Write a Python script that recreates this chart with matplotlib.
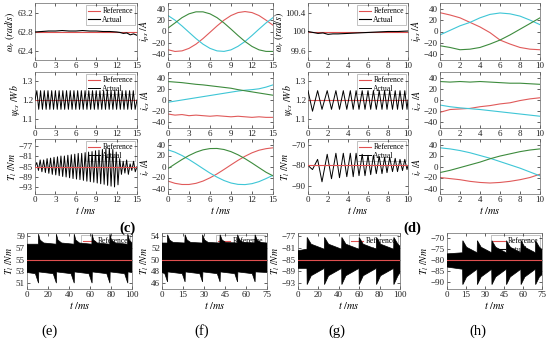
import numpy as np
import matplotlib
matplotlib.use("Agg")
import matplotlib.pyplot as plt

plt.rcParams["font.family"] = ["Liberation Serif", "DejaVu Serif"]
plt.rcParams["mathtext.fontset"] = "stix"

W, H = 550, 342

# ---------------- data ----------------
# (c) block, 0..15 ms
t15 = [0, 1, 2, 3, 4, 5, 6, 7, 8, 9, 10, 11, 12, 13, 14, 15]
wr_c_t = [0, 1, 2, 3, 4, 5, 6, 7, 8, 9, 10, 11, 12, 12.5, 13, 13.5, 14, 14.5, 15]
wr_c = [62.79, 62.80, 62.81, 62.81, 62.82, 62.81, 62.81, 62.82, 62.81, 62.81,
        62.80, 62.80, 62.79, 62.78, 62.76, 62.77, 62.73, 62.75, 62.72]
psi_c = [1.20, 1.25, 1.15, 1.25, 1.15, 1.25, 1.15, 1.25, 1.15, 1.25, 1.15, 1.25, 1.15,
         1.25, 1.15, 1.25, 1.15, 1.25, 1.15, 1.25, 1.15, 1.25, 1.15, 1.25, 1.15, 1.25,
         1.15, 1.25, 1.15, 1.25, 1.15, 1.25, 1.15, 1.25, 1.15, 1.25, 1.15, 1.25, 1.15,
         1.25, 1.15, 1.25, 1.15, 1.25, 1.15, 1.25, 1.15, 1.25, 1.15, 1.25, 1.15, 1.25,
         1.15, 1.25, 1.15, 1.20]
tl_c = [-85, -83.5, -86.5, -82.5, -87, -82.5, -87.3, -82, -87.6, -81.8, -88, -81.5,
        -88.2, -81.3, -88.5, -81, -88.8, -81, -89, -80.7, -89.3, -80.5, -89.6, -80.3,
        -89.8, -80, -90, -80, -90.3, -79.7, -90.6, -79.5, -90.8, -79.3, -91, -79,
        -91.3, -78.8, -91.6, -78.5, -91.8, -78.2, -92.2, -78, -92.5, -78.5, -92.8,
        -79.5, -92, -82, -88, -83, -87.5, -82.5, -88, -84, -86.5, -83, -87, -85]
ips_c_red = [-32, -35, -34, -29.6, -22.2, -12.4, -1.4, 9.7, 19.9, 28, 33.2, 35, 33.2, 28, 19.9, 11]
ips_c_cyan = [28, 19.9, 9.7, -1.4, -12.4, -22.2, -29.6, -34, -34.9, -32.2, -26, -17.5, -7, 4.2, 15, 24.3]
ips_c_green = [6, 15, 24.3, 31, 34.5, 34.5, 31, 24.3, 15, 4.2, -7, -17.5, -26.2, -32.2, -34.9, -35]
ics_c_red = [-25, -27, -26, -28, -27, -28, -29, -28, -29, -30, -29, -30, -31, -30, -31, -31]
ics_c_cyan = [-4, -2, 0, 2, 4, 6, 8, 10, 12, 14, 16, 17.5, 18.5, 20, 23, 27]
ics_c_green = [33, 32, 31, 29.5, 28, 27, 25.5, 24, 22.5, 21, 18.5, 16.5, 14.5, 12.5, 10.5, 8.5]
ir_c_red = [-26.5, -30.6, -32.7, -32.7, -30.6, -26.5, -20.6, -13.5, -5.4, 3, 11.2, 18.6, 24.9, 29.6, 32.4, 34]
ir_c_cyan = [30.3, 26, 20, 12.7, 4.6, -3.8, -12, -19.3, -25.5, -30, -32.5, -32.9, -31.2, -27.5, -22, -16]
ir_c_green = [-3.8, 4.6, 12.7, 20, 26, 30.3, 32.6, 32.8, 30.9, 27, 21.3, 14.3, 6.3, -2.1, -10.4, -17]

# (d) block, 0..10 ms
t10 = [0, 1, 2, 3, 4, 5, 6, 7, 8, 9, 10]
wr_d_t = [0, 0.5, 1, 1.5, 2, 2.5, 3, 4, 5, 6, 7, 8, 9, 10]
wr_d = [100.0, 99.98, 99.96, 99.97, 99.94, 99.95, 99.95, 99.96, 99.97, 99.98, 99.99, 100.0, 100.0, 100.01]
psi_d_t = [0, 0.45, 0.96, 1.4, 1.92, 2.35, 2.79, 3.15, 3.53, 3.88, 4.23, 4.52, 4.81, 5.1,
           5.42, 5.7, 6.0, 6.27, 6.54, 6.83, 7.12, 7.4, 7.66, 7.9, 8.17, 8.45, 8.72, 8.95,
           9.2, 9.45, 9.68, 9.9, 10.0]
psi_d = [1.25, 1.14, 1.25, 1.15, 1.25, 1.15, 1.25, 1.15, 1.25, 1.15, 1.25, 1.15, 1.25, 1.15,
         1.25, 1.15, 1.25, 1.15, 1.25, 1.15, 1.25, 1.15, 1.25, 1.15, 1.25, 1.15, 1.25, 1.15,
         1.25, 1.15, 1.25, 1.15, 1.20]
tl_d = [-80, -82, -77, -88, -74.5, -86.5, -74, -86, -74, -85.5, -74, -85.5, -74, -85,
        -74.5, -85, -75, -84.5, -75, -84, -75.5, -84, -76, -83.5, -76, -83, -76.5, -83,
        -77, -82.5, -77, -82, -80]
ips_d_red = [33, 29, 24, 16, 8, -2, -15, -22, -28, -31, -32]
ips_d_cyan = [-6, 2, 10, 16, 24, 30, 32.5, 31, 27, 20, 12]
ips_d_green = [-25, -28, -32, -31, -28, -22, -15, -6, 4, 14, 24]
ics_d_red = [-22, -17, -16, -15, -12, -10, -7, -5, -1, 2, 4]
ics_d_cyan = [-9, -12, -14, -15.5, -17, -19, -21, -23, -25, -27, -29]
ics_d_green = [33, 32, 33, 32, 33, 32, 31, 30, 30, 29, 28]
ir_d_red = [-20, -22, -24, -27, -29, -30, -29, -27, -24, -20, -14]
ir_d_cyan = [34, 32, 29, 25, 20, 15, 9, 3, -3, -10, -17]
ir_d_green = [-11, -7, -2, 3, 8, 14, 19, 23, 27, 30, 32]

# (e)-(h): envelopes of the fast torque ripple
e_up_t = [0, 10.8, 11, 12.5, 16, 27.8, 28, 29.5, 33, 44.8, 45, 46.5, 50, 61.8, 62, 63.5, 67,
          78.8, 79, 80.5, 84, 95.8, 96, 97.5, 100]
e_up = [57.6, 57.6, 59.3, 58.3, 57.8, 57.6, 59.3, 58.3, 57.8, 57.6, 59.3, 58.3, 57.8, 57.6,
        59.3, 58.3, 57.8, 57.6, 59.3, 58.3, 57.8, 57.6, 59.3, 58.3, 57.8]
e_lo_t = [0, 8, 11, 11.2, 25, 28, 28.2, 42, 45, 45.2, 59, 62, 62.2, 76, 79, 79.2, 93, 96, 96.2, 100]
e_lo = [52.8, 52.6, 51.0, 52.9, 52.6, 51.0, 52.9, 52.6, 51.0, 52.9, 52.6, 51.0, 52.9, 52.6,
        51.0, 52.9, 52.6, 51.0, 52.9, 52.8]

f_up_t = [0, 3.8, 4, 5.5, 8, 16.3, 16.5, 18, 20.5, 28.8, 29, 30.5, 33, 41.3, 41.5, 43, 45.5,
          53.8, 54, 55.5, 58, 66.3, 66.5, 68, 70.5, 75]
f_up = [52.8, 52.8, 54.2, 53.3, 52.9, 52.8, 54.2, 53.3, 52.9, 52.8, 54.2, 53.3, 52.9, 52.8,
        54.2, 53.3, 52.9, 52.8, 54.2, 53.3, 52.9, 52.8, 54.2, 53.3, 52.9, 52.8]
f_lo_t = [0, 2, 4, 4.2, 14.5, 16.5, 16.7, 27, 29, 29.2, 39.5, 41.5, 41.7, 52, 54, 54.2, 64.5,
          66.5, 66.7, 75]
f_lo = [47.8, 47.6, 46.2, 47.9, 47.6, 46.2, 47.9, 47.6, 46.2, 47.9, 47.6, 46.2, 47.9, 47.6,
        46.2, 47.9, 47.6, 46.2, 47.9, 47.8]

g_up_t = [0, 8.8, 9, 13, 25.8, 26, 30, 42.8, 43, 47, 59.8, 60, 64, 76.8, 77, 81, 93.8, 94, 98, 100]
g_up = [-82, -81.5, -77.5, -79.8, -81.5, -77.5, -79.8, -81.5, -77.5, -79.8, -81.5, -77.5, -79.8,
        -81.5, -77.5, -79.8, -81.5, -77.5, -79.8, -80.5]
g_lo_t = g_up_t
g_lo = [-88, -88, -93.5, -90.5, -88, -93.5, -90.5, -88, -93.5, -90.5, -88, -93.5, -90.5,
        -88, -93.5, -90.5, -88, -93.5, -90.5, -89.5]

h_up_t = [0, 12.3, 12.5, 15.5, 23.8, 24, 27, 35.3, 35.5, 38.5, 46.8, 47, 50, 58.3, 58.5, 61.5,
          69.8, 70, 73, 75]
h_up = [-77, -76.5, -71, -74, -76.5, -71, -74, -76.5, -71, -74, -76.5, -71, -74,
        -76.5, -71, -74, -76.5, -71, -74, -75]
h_lo_t = h_up_t
h_lo = [-83, -84, -91, -87.5, -84, -91, -87.5, -84, -91, -87.5, -84, -91, -87.5,
        -84, -91, -87.5, -84, -91, -87.5, -86.5]

# ---------------- drawing ----------------
RED = "#e05a5a"
CYAN = "#3ec6d6"
GREEN = "#3d8b3d"
REF = "#e05050"

fig = plt.figure(figsize=(W / 100, H / 100), dpi=100)


def px_axes(x0, y0, x1, y1):
    return fig.add_axes([x0 / W, 1 - y1 / H, (x1 - x0) / W, (y1 - y0) / H])


def style(ax, xlim, xticks, ylim, yticks, ylabel, xlabel=False):
    ax.set_xlim(xlim)
    ax.set_xticks(xticks)
    ax.set_ylim(ylim)
    ax.set_yticks(yticks)
    ax.set_ylabel(ylabel, fontsize=7, labelpad=0)
    if xlabel:
        ax.set_xlabel(r"$t\ /ms$", fontsize=7.5, labelpad=1)
    ax.tick_params(direction="in", length=2, width=0.5, labelsize=6.5, pad=1.5,
                   top=True, right=True, colors="#222")
    for s in ax.spines.values():
        s.set_linewidth(0.5)
        s.set_color("#666")


def legend(ax):
    leg = ax.legend(loc="upper right", fontsize=5.5, handlelength=1.6, borderpad=0.25,
                    labelspacing=0.05, handletextpad=0.3, fancybox=False, framealpha=1,
                    edgecolor="#aaa", borderaxespad=0.3)
    leg.get_frame().set_linewidth(0.5)
    leg.set_zorder(1)


def three(ax, t, r, c, g):
    ax.plot(t, r, color=RED, lw=0.8)
    ax.plot(t, c, color=CYAN, lw=0.8)
    ax.plot(t, g, color=GREEN, lw=0.8)


rows = [(3, 60), (72, 128), (139, 194)]
cur_ticks = [-40, -20, 0, 20, 40]

# block (c)
xl, xr = (35, 137), (168, 273)
x15 = [0, 3, 6, 9, 12, 15]

ax = px_axes(xl[0], rows[0][0], xl[1], rows[0][1])
ax.plot([0, 15], [62.8, 62.8], color=REF, lw=0.8, label="Reference", zorder=2)
ax.plot(wr_c_t, wr_c, color="black", lw=0.8, label="Actual", zorder=3)
style(ax, (0, 15), x15, (62.2, 63.4), [62.4, 62.8, 63.2], r"$\omega_r\ (rad/s)$")
legend(ax)

ax = px_axes(xl[0], rows[1][0], xl[1], rows[1][1])
ax.plot([0, 15], [1.2, 1.2], color=REF, lw=0.8, label="Reference", zorder=2)
ax.plot(np.linspace(0, 15, len(psi_c)), psi_c, color="black", lw=0.7, label="Actual", zorder=3)
style(ax, (0, 15), x15, (1.05, 1.35), [1.1, 1.2, 1.3], r"$\psi_{cs}\ /Wb$")
legend(ax)

ax = px_axes(xl[0], rows[2][0], xl[1], rows[2][1])
ax.plot([0, 15], [-85, -85], color=REF, lw=0.8, label="Reference", zorder=3)
ax.plot(np.linspace(0, 15, len(tl_c)), tl_c, color="black", lw=0.7, label="Actual", zorder=2)
style(ax, (0, 15), x15, (-95.5, -74.5), [-93, -89, -85, -81, -77], r"$T_l\ /Nm$", True)
legend(ax)

ax = px_axes(xr[0], rows[0][0], xr[1], rows[0][1])
three(ax, t15, ips_c_red, ips_c_cyan, ips_c_green)
style(ax, (0, 15), x15, (-50, 50), cur_ticks, r"$i_{ps}\ /A$")
ax = px_axes(xr[0], rows[1][0], xr[1], rows[1][1])
three(ax, t15, ics_c_red, ics_c_cyan, ics_c_green)
style(ax, (0, 15), x15, (-50, 50), cur_ticks, r"$i_{cs}\ /A$")
ax = px_axes(xr[0], rows[2][0], xr[1], rows[2][1])
three(ax, t15, ir_c_red, ir_c_cyan, ir_c_green)
style(ax, (0, 15), x15, (-50, 50), cur_ticks, r"$i_r\ /A$", True)

# block (d)
xl, xr = (308, 408), (440, 540)
x10 = [0, 2, 4, 6, 8, 10]

ax = px_axes(xl[0], rows[0][0], xl[1], rows[0][1])
ax.plot([0, 10], [100, 100], color=REF, lw=0.8, label="Reference", zorder=2)
ax.plot(wr_d_t, wr_d, color="black", lw=0.8, label="Actual", zorder=3)
style(ax, (0, 10), x10, (99.4, 100.6), [99.6, 100, 100.4], r"$\omega_r\ (rad/s)$")
ax.set_yticklabels(["99.6", "100", "100.4"])
legend(ax)

ax = px_axes(xl[0], rows[1][0], xl[1], rows[1][1])
ax.plot([0, 10], [1.2, 1.2], color=REF, lw=0.8, label="Reference", zorder=2)
ax.plot(psi_d_t, psi_d, color="black", lw=0.7, label="Actual", zorder=3)
style(ax, (0, 10), x10, (1.05, 1.35), [1.1, 1.2, 1.3], r"$\psi_{cs}\ /Wb$")
legend(ax)

ax = px_axes(xl[0], rows[2][0], xl[1], rows[2][1])
ax.plot([0, 10], [-80, -80], color=REF, lw=0.8, label="Reference", zorder=3)
ax.plot(psi_d_t, tl_d, color="black", lw=0.7, label="Actual", zorder=2)
style(ax, (0, 10), x10, (-94, -67), [-90, -80, -70], r"$T_l\ /Nm$", True)
legend(ax)

ax = px_axes(xr[0], rows[0][0], xr[1], rows[0][1])
three(ax, t10, ips_d_red, ips_d_cyan, ips_d_green)
style(ax, (0, 10), x10, (-50, 50), cur_ticks, r"$i_{ps}\ /A$")
ax = px_axes(xr[0], rows[1][0], xr[1], rows[1][1])
three(ax, t10, ics_d_red, ics_d_cyan, ics_d_green)
style(ax, (0, 10), x10, (-50, 50), cur_ticks, r"$i_{cs}\ /A$")
ax = px_axes(xr[0], rows[2][0], xr[1], rows[2][1])
three(ax, t10, ir_d_red, ir_d_cyan, ir_d_green)
style(ax, (0, 10), x10, (-50, 50), cur_ticks, r"$i_r\ /A$", True)

# bottom row (e)-(h)
bottom = [
    ((27, 132), (0, 100), [0, 20, 40, 60, 80, 100], (50, 59.5), [51, 53, 55, 57, 59], 55,
     e_up_t, e_up, e_lo_t, e_lo),
    ((162, 267), (0, 75), [0, 15, 30, 45, 60, 75], (45, 54.5), [46, 48, 50, 52, 54], 50,
     f_up_t, f_up, f_lo_t, f_lo),
    ((298, 400), (0, 100), [0, 20, 40, 60, 80, 100], (-95, -76), [-93, -89, -85, -81, -77], -85,
     g_up_t, g_up, g_lo_t, g_lo),
    ((447, 542), (0, 75), [0, 15, 30, 45, 60, 75], (-93, -67.5), [-90, -85, -80, -75, -70], -80,
     h_up_t, h_up, h_lo_t, h_lo),
]
for (xs, xlim, xt, ylim, yt, ref, ut, uv, lt, lv) in bottom:
    ax = px_axes(xs[0], 233, xs[1], 289)
    ax.plot(list(xlim), [ref, ref], color=REF, lw=0.8, label="Reference", zorder=4)
    ax.fill(np.concatenate([ut, lt[::-1]]), np.concatenate([uv, lv[::-1]]),
            color="black", lw=0.5, zorder=3)
    ax.plot([], [], color="black", lw=0.8, label="Actual")
    style(ax, xlim, xt, ylim, yt, r"$T_l\ /Nm$", True)
    legend(ax)

for txt, x, y, wt in [("(c)", 127, 228, "bold"), ("(d)", 412, 228, "bold"),
                      ("(e)", 50, 331, "normal"), ("(f)", 202, 331, "normal"),
                      ("(g)", 337, 331, "normal"), ("(h)", 478, 331, "normal")]:
    fig.text(x / W, 1 - y / H, txt, fontsize=10.5, fontweight=wt, ha="center", va="center")

fig.savefig("out.png", dpi=100)
